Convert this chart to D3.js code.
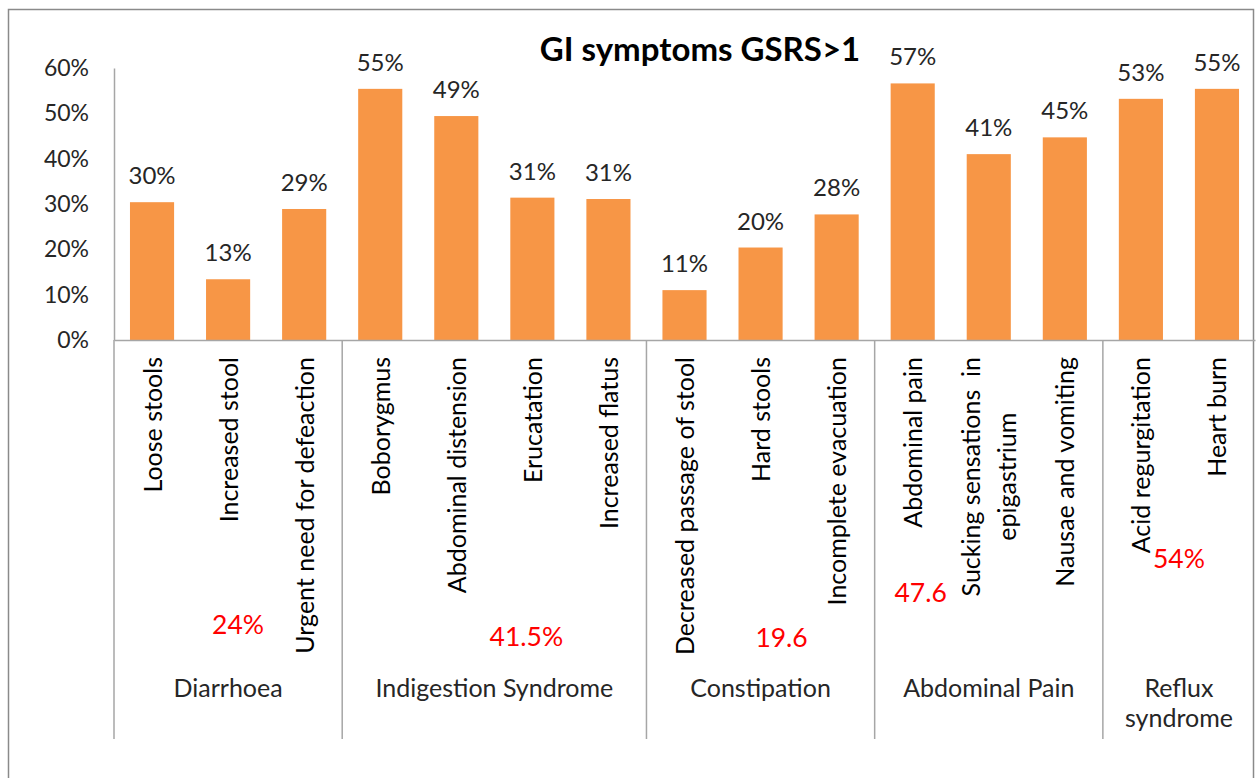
<!DOCTYPE html>
<html>
<head>
<meta charset="utf-8">
<script src="https://cdn.jsdelivr.net/npm/d3@7"></script>
<style>
  html, body { margin: 0; padding: 0; background: #fff; }
  svg { display: block; }
  text { font-family: "Lato", "Open Sans", sans-serif; }
</style>
</head>
<body>
<svg id="chart" width="1258" height="778"></svg>
<script>
// ---- data ----
const categories = [
  "Loose stools", "Increased stool", "Urgent need for defeaction",
  "Boborygmus", "Abdominal distension", "Erucatation", "Increased flatus",
  "Decreased passage of stool", "Hard stools", "Incomplete evacuation",
  "Abdominal pain", "Sucking sensations  in\nepigastrium", "Nausae and vomiting",
  "Acid regurgitation", "Heart burn"
];
const values = [0.304, 0.134, 0.289, 0.554, 0.494, 0.314, 0.311, 0.110, 0.204, 0.277, 0.566, 0.410, 0.447, 0.532, 0.554];
const groupNames = ["Diarrhoea", "Indigestion Syndrome", "Constipation", "Abdominal Pain", "Reflux\nsyndrome"];
const groupSizes = [3, 4, 3, 3, 2];
const groupTotals = ["24%", "41.5%", "19.6", "47.6", "54%"];
const yTicks = [0, 0.1, 0.2, 0.3, 0.4, 0.5, 0.6];
const title = "GI symptoms GSRS>1";

// ---- layout ----
const W = 1258, H = 778;
const plot = { left: 114, right: 1255, top: 68, bottom: 340 };
const sepBottom = 739;
const fsTick = 23, fsValue = 24, fsCat = 25, fsGroup = 25, fsTotal = 26.5;
// positions of the red group totals (x offset from the group's anchor bar, baseline y)
const totalLayout = [
  { bar: 1, dx: 10, y: 634 },
  { bar: 5, dx: -6, y: 646 },
  { bar: 8, dx: 21, y: 647 },
  { bar: 10, dx: 8, y: 602 },
  { bar: 13, dx: 38, y: 568 }
];

const svg = d3.select("#chart");

// outer border
svg.append("rect")
  .attr("x", 8.5).attr("y", 9.5)
  .attr("width", 1245).attr("height", 800)
  .attr("fill", "none").attr("stroke", "#8a8a8a").attr("stroke-width", 1.5);

const x = d3.scaleBand().domain(d3.range(categories.length))
  .range([plot.left, plot.right]).paddingInner(0.42).paddingOuter(0.21);
const y = d3.scaleLinear().domain([0, 0.6]).range([plot.bottom, plot.top]);

// title
svg.append("text")
  .attr("x", 700).attr("y", 61)
  .attr("text-anchor", "middle")
  .attr("font-weight", "bold").attr("font-size", 33).attr("fill", "#000")
  .text(title);

// y axis
const yAxis = svg.append("g")
  .attr("transform", `translate(${plot.left},0)`)
  .call(d3.axisLeft(y).tickValues(yTicks).tickFormat(d3.format(".0%"))
    .tickSizeInner(0).tickSizeOuter(0).tickPadding(25));
yAxis.select(".domain").attr("stroke", "#a6a6a6").attr("stroke-width", 1.5);
yAxis.selectAll(".tick text")
  .attr("font-size", fsTick).attr("fill", "#262626").attr("font-family", "Lato, sans-serif");

// bars
svg.append("g").selectAll("rect").data(values).join("rect")
  .attr("x", (d, i) => x(i))
  .attr("y", d => y(d))
  .attr("width", x.bandwidth())
  .attr("height", d => y(0) - y(d))
  .attr("fill", "#f79646");

// value labels
svg.append("g").selectAll("text").data(values).join("text")
  .attr("x", (d, i) => x(i) + x.bandwidth() / 2)
  .attr("y", d => y(d) - 18)
  .attr("text-anchor", "middle")
  .attr("font-size", fsValue).attr("fill", "#262626")
  .text(d => d3.format(".0%")(d));

// x axis line
const xAxis = svg.append("g")
  .attr("transform", `translate(0,${plot.bottom})`)
  .call(d3.axisBottom(x).tickSize(0).tickFormat(""));
xAxis.select(".domain").attr("stroke", "#a6a6a6").attr("stroke-width", 1.5);

// group separators
const halfGap = (x.step() - x.bandwidth()) / 2;
let start = 0;
const groups = groupNames.map((g, gi) => {
  const s = start, e = start + groupSizes[gi] - 1;
  start += groupSizes[gi];
  return { name: g, x0: x(s) - halfGap, x1: x(e) + x.bandwidth() + halfGap, total: groupTotals[gi] };
});
const bounds = [groups[0].x0, ...groups.slice(0, -1).map(g => g.x1)];
svg.append("g").selectAll("line").data(bounds).join("line")
  .attr("x1", d => d).attr("x2", d => d)
  .attr("y1", plot.bottom).attr("y2", sepBottom)
  .attr("stroke", "#a6a6a6").attr("stroke-width", 1.5);

// category labels (rotated)
const catG = svg.append("g");
categories.forEach((c, i) => {
  const lines = c.split("\n");
  const cx = x(i) + x.bandwidth() / 2;
  const g = catG.append("g").attr("transform", `translate(${cx},357) rotate(-90)`);
  const lh = 36;
  const t = g.append("text").attr("font-size", fsCat).attr("fill", "#000")
    .style("white-space", "pre");
  const spans = lines.map((l, li) => t.append("tspan")
    .attr("y", (li - (lines.length - 1) / 2) * lh)
    .attr("dy", "0.38em")
    .text(l));
  if (lines.length === 1) {
    t.attr("text-anchor", "end");
    spans[0].attr("x", 0);
  } else {
    const wmax = d3.max(spans, s => s.node().getComputedTextLength());
    t.attr("text-anchor", "middle");
    spans.forEach(s => s.attr("x", -wmax / 2));
  }
});

// group names
groups.forEach(g => {
  const lines = g.name.split("\n");
  const t = svg.append("text")
    .attr("text-anchor", "middle").attr("font-size", fsGroup).attr("fill", "#262626");
  lines.forEach((l, li) => t.append("tspan")
    .attr("x", (g.x0 + g.x1) / 2).attr("y", 697 + li * 30).text(l));
});

// red group totals
groups.forEach((g, gi) => {
  const L = totalLayout[gi];
  svg.append("text")
    .attr("x", x(L.bar) + x.bandwidth() / 2 + L.dx)
    .attr("y", L.y)
    .attr("text-anchor", "middle")
    .attr("font-size", fsTotal).attr("fill", "#ff0000")
    .text(g.total);
});
</script>
</body>
</html>
